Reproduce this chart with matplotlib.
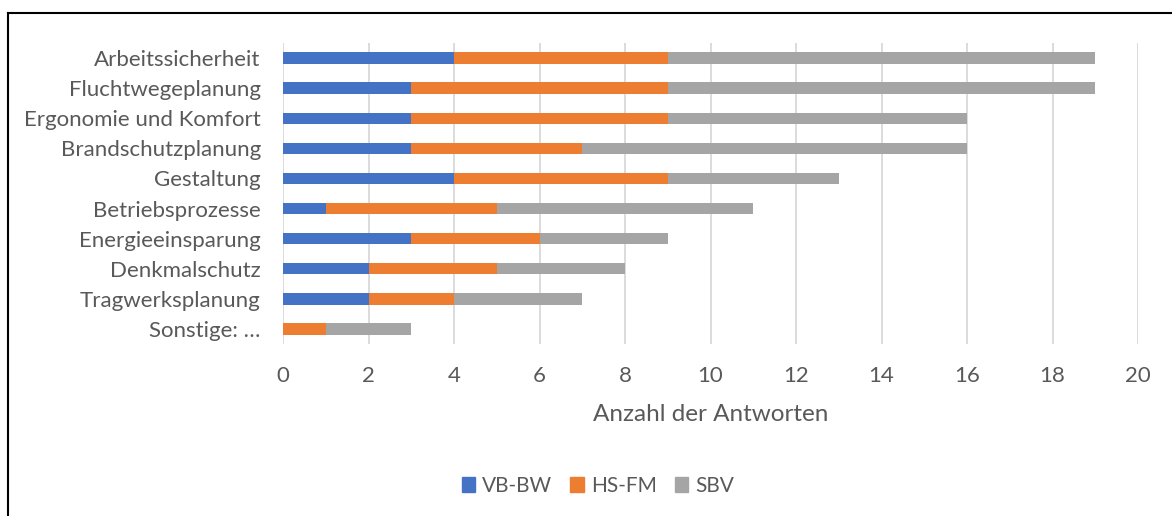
import matplotlib
matplotlib.use("Agg")
import matplotlib.pyplot as plt
from matplotlib.lines import Line2D

categories = ["Arbeitssicherheit", "Fluchtwegeplanung", "Ergonomie und Komfort",
              "Brandschutzplanung", "Gestaltung", "Betriebsprozesse",
              "Energieeinsparung", "Denkmalschutz", "Tragwerksplanung", "Sonstige: …"]
vb_bw = [4, 3, 3, 3, 4, 1, 3, 2, 2, 0]
hs_fm = [5, 6, 6, 4, 5, 4, 3, 3, 2, 1]
sbv = [10, 10, 7, 9, 4, 6, 3, 3, 3, 2]
series_names = ["VB-BW", "HS-FM", "SBV"]
colors = ["#4472C4", "#ED7D31", "#A5A5A5"]
xticks = list(range(0, 21, 2))

plt.rcParams['font.family'] = ['Lato', 'DejaVu Sans']
text_color = "#595959"

fig = plt.figure(figsize=(11.72, 5.16), dpi=100)
ax = fig.add_axes([283/1172, 1-344/516, (1138-283)/1172, (344-43)/516])

y = list(range(len(categories)))
left = [0]*len(categories)
for vals, name, c in zip([vb_bw, hs_fm, sbv], series_names, colors):
    ax.barh(y, vals, left=left, height=0.38, color=c, label=name, zorder=3)
    left = [l + v for l, v in zip(left, vals)]

ax.set_ylim(len(categories)-0.5, -0.5)
ax.set_xlim(0, 20)
ax.set_yticks(y)
ax.set_yticklabels(categories, fontsize=16, color=text_color)
ax.set_xticks(xticks)
ax.set_xticklabels([str(t) for t in xticks], fontsize=16, color=text_color)
ax.tick_params(axis='both', length=0)
ax.tick_params(axis='y', pad=16)
ax.tick_params(axis='x', pad=16)
ax.grid(axis='x', color="#D9D9D9", linewidth=1.3, zorder=0)
for s in ax.spines.values():
    s.set_visible(False)
ax.set_xlabel("Anzahl der Antworten", fontsize=17.5, color=text_color, labelpad=13)

handles = [plt.Rectangle((0, 0), 1, 1, color=c) for c in colors]
fig.legend(handles, series_names, loc='center', bbox_to_anchor=(598/1172, 1-486/516),
           ncol=3, frameon=False, fontsize=15, labelcolor=text_color,
           handlelength=0.65, handleheight=0.75, handletextpad=0.35, columnspacing=0.85)

# frame border (left and top)
fig.add_artist(Line2D([8/1172, 8/1172], [0, 1-13/516], transform=fig.transFigure, color="black", lw=1.5))
fig.add_artist(Line2D([8/1172, 1], [1-13/516, 1-13/516], transform=fig.transFigure, color="black", lw=1.5))

fig.savefig("out.png", dpi=100, facecolor="white")
